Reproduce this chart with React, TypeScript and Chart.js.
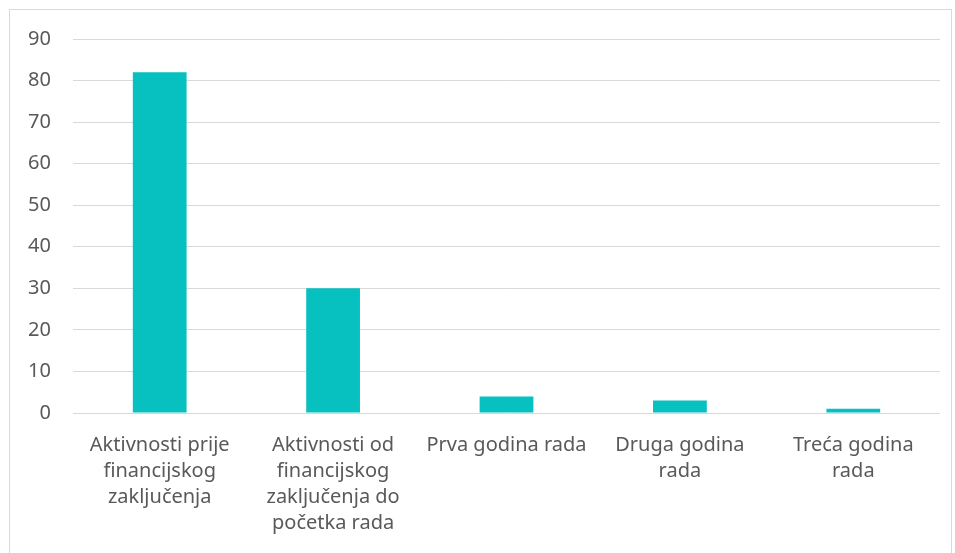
import React, { useEffect, useRef } from "react";
import { Chart, registerables } from "chart.js";

Chart.register(...registerables);

const categories: (string | string[])[] = [
  ["Aktivnosti prije", "financijskog", "zaključenja"],
  ["Aktivnosti od", "financijskog", "zaključenja do", "početka rada"],
  "Prva godina rada",
  ["Druga godina", "rada"],
  ["Treća godina", "rada"],
];
const values: number[] = [82, 30, 4, 3, 1];
const yTicks = { min: 0, max: 90, step: 10 };

export default function App() {
  const ref = useRef<HTMLCanvasElement | null>(null);
  useEffect(() => {
    if (!ref.current) return;
    const font = { family: "'Noto Sans', sans-serif", size: 20 };
    const chart = new Chart(ref.current, {
      type: "bar",
      data: {
        labels: categories,
        datasets: [
          {
            data: values,
            backgroundColor: "#07C0C0",
            borderWidth: 0,
            barPercentage: 0.62,
            categoryPercentage: 0.5,
          },
        ],
      },
      options: {
        animation: false,
        responsive: false,
        maintainAspectRatio: false,
        layout: { padding: { top: 29, right: 11, left: 0, bottom: 0 } },
        plugins: { legend: { display: false }, tooltip: { enabled: false } },
        scales: {
          x: {
            grid: { display: false },
            border: { display: false },
            ticks: {
              color: "#595959",
              font: { ...font, lineHeight: 1.3 },
              autoSkip: false,
              maxRotation: 0,
              minRotation: 0,
              padding: 11,
            },
            afterFit: (axis: any) => {
              axis.height = 140;
            },
          },
          y: {
            min: yTicks.min,
            max: yTicks.max,
            grid: {
              color: "#D9D9D9",
              lineWidth: 1,
              drawTicks: true,
              tickLength: 22,
              tickColor: "rgba(0,0,0,0)",
            },
            border: { display: false },
            ticks: {
              stepSize: yTicks.step,
              color: "#595959",
              font,
              padding: 0,
            },
            afterFit: (axis: any) => {
              axis.width = 63;
            },
          },
        },
      },
    });
    return () => chart.destroy();
  }, []);
  return (
    <div
      style={{
        position: "absolute",
        left: 9,
        top: 9,
        width: 941,
        height: 560,
        border: "1px solid #D9D9D9",
        background: "#fff",
      }}
    >
      <canvas ref={ref} width={941} height={543} style={{ display: "block" }} />
    </div>
  );
}
